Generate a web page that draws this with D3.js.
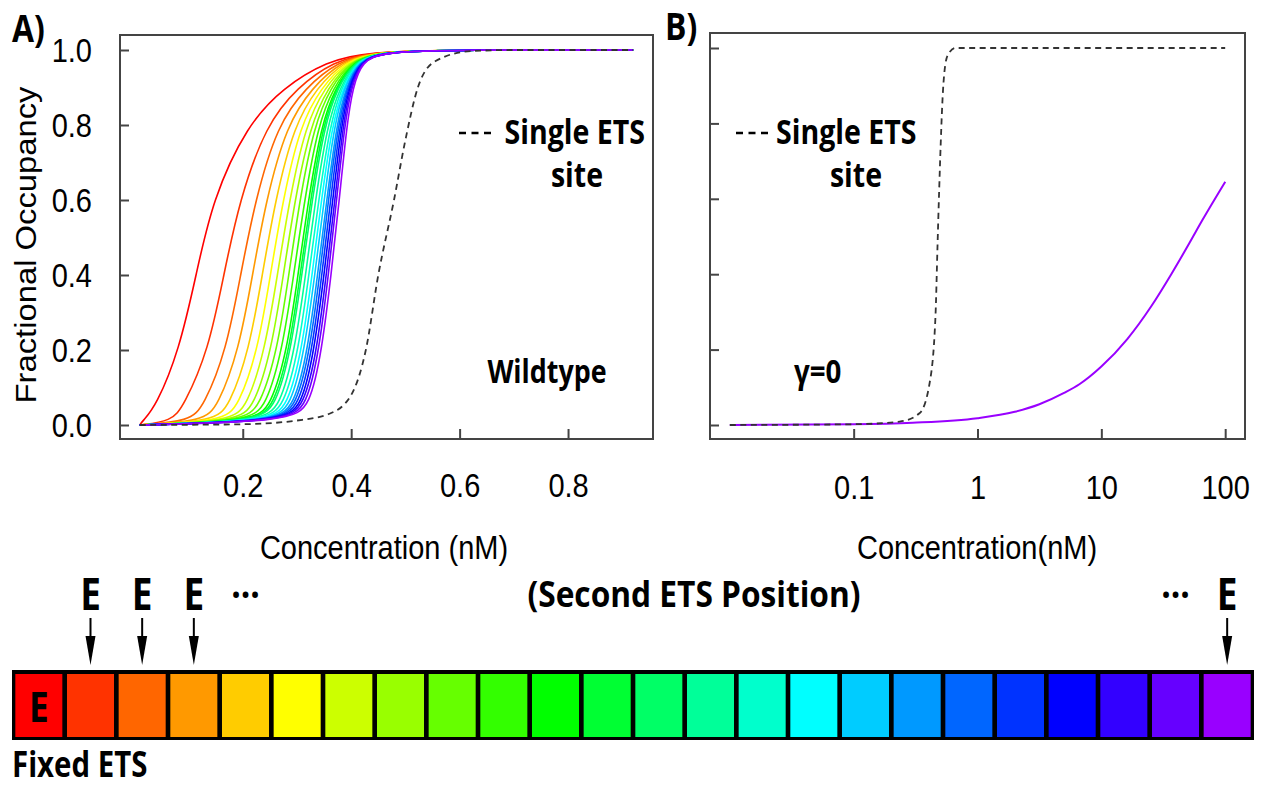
<!DOCTYPE html>
<html>
<head>
<meta charset="utf-8">
<script src="https://cdn.jsdelivr.net/npm/d3@7"></script>
<style>
  body { margin: 0; background: #fff; }
  svg { display: block; }
</style>
</head>
<body>
<svg id="fig"></svg>
<script>
// colours of the 24 positions of the strip (fixed ETS = first)
const cellColors = ["#FF0000", "#FF3300", "#FF6600", "#FF9900", "#FFCC00", "#FFFF00",
  "#CCFF00", "#99FF00", "#66FF00", "#33FF00", "#00FF00", "#00FF33", "#00FF66", "#00FF99",
  "#00FFCC", "#00FFFF", "#00CCFF", "#0099FF", "#0066FF", "#0033FF", "#0000FF", "#3300FF",
  "#6600FF", "#9900FF"]

// panel A: concentration (nM) at which each wildtype curve reaches these occupancies
const occLevels = [0.01, 0.05, 0.2, 0.4, 0.6, 0.8, 0.9, 0.97, 0.995]
const wildtypeX = [
  [0.015, 0.040, 0.083, 0.114, 0.144, 0.208, 0.275, 0.355, 0.430],
  [0.068, 0.091, 0.137, 0.165, 0.194, 0.243, 0.300, 0.368, 0.436],
  [0.102, 0.128, 0.170, 0.196, 0.223, 0.264, 0.316, 0.376, 0.440],
  [0.127, 0.154, 0.193, 0.218, 0.243, 0.281, 0.328, 0.382, 0.442],
  [0.147, 0.175, 0.212, 0.236, 0.260, 0.295, 0.337, 0.386, 0.445],
  [0.163, 0.192, 0.228, 0.251, 0.274, 0.306, 0.345, 0.390, 0.446],
  [0.178, 0.208, 0.241, 0.264, 0.286, 0.316, 0.351, 0.394, 0.448],
  [0.190, 0.221, 0.253, 0.275, 0.296, 0.325, 0.357, 0.397, 0.449],
  [0.201, 0.232, 0.264, 0.285, 0.305, 0.332, 0.362, 0.399, 0.451],
  [0.211, 0.243, 0.273, 0.294, 0.314, 0.339, 0.367, 0.402, 0.452],
  [0.220, 0.252, 0.282, 0.302, 0.321, 0.345, 0.371, 0.404, 0.453],
  [0.224, 0.257, 0.286, 0.306, 0.325, 0.348, 0.373, 0.405, 0.454],
  [0.227, 0.261, 0.289, 0.309, 0.328, 0.351, 0.375, 0.406, 0.454],
  [0.235, 0.269, 0.296, 0.316, 0.334, 0.356, 0.379, 0.408, 0.454],
  [0.242, 0.276, 0.303, 0.322, 0.340, 0.361, 0.382, 0.409, 0.455],
  [0.248, 0.283, 0.309, 0.328, 0.345, 0.365, 0.385, 0.411, 0.456],
  [0.254, 0.289, 0.314, 0.333, 0.350, 0.369, 0.387, 0.412, 0.456],
  [0.259, 0.295, 0.320, 0.338, 0.355, 0.373, 0.390, 0.414, 0.457],
  [0.264, 0.299, 0.324, 0.342, 0.358, 0.376, 0.392, 0.414, 0.457],
  [0.268, 0.304, 0.328, 0.346, 0.362, 0.379, 0.394, 0.416, 0.458],
  [0.273, 0.309, 0.332, 0.350, 0.366, 0.382, 0.396, 0.417, 0.458],
  [0.277, 0.313, 0.337, 0.354, 0.370, 0.385, 0.398, 0.418, 0.459],
  [0.282, 0.318, 0.341, 0.358, 0.373, 0.388, 0.400, 0.419, 0.459],
  [0.287, 0.324, 0.346, 0.363, 0.378, 0.392, 0.403, 0.420, 0.460],
]
const wildtypeStart = [0.01, 0]
const wildtypeEnd = [[0.6, 1], [0.92, 1]]

// single ETS site, panel A (linear) and panel B (log)
const singleA = [[0.01, 0], [0.2, 0.002], [0.3, 0.012], [0.36, 0.03], [0.40, 0.08],
  [0.427, 0.2], [0.45, 0.4], [0.479, 0.6], [0.50, 0.76], [0.523, 0.9], [0.555, 0.97],
  [0.62, 0.997], [0.7, 1], [0.92, 1]]
const singleB = [[0.01, 0], [0.1, 0.002], [0.235, 0.009], [0.34, 0.031], [0.41, 0.11],
  [0.458, 0.29], [0.475, 0.47], [0.49, 0.62], [0.532, 0.91], [0.573, 0.98],
  [0.665, 1], [1, 1], [100, 1]]
// gamma = 0, panel B
const gammaZeroB = [[0.01, 0], [0.1, 0.002], [0.3, 0.006], [1, 0.018], [2, 0.035],
  [3.16, 0.055], [5, 0.085], [6.65, 0.108], [10, 0.155], [16.2, 0.228], [25.3, 0.315],
  [36.7, 0.40], [51.3, 0.482], [65.3, 0.543], [100, 0.645]]

const ticksAx = [0.2, 0.4, 0.6, 0.8]
const ticksY = [0, 0.2, 0.4, 0.6, 0.8, 1.0]
const ticksBx = [0.1, 1, 10, 100]
const arrowCells = [1, 2, 3, 23]
const ellipsisCells = [4, 22]

const width = 1263
const height = 787

const svg = d3.select('svg#fig')
  .attr("width", width)
  .attr("height", height)
  .attr("viewBox", `0 0 ${width} ${height}`)

const REG = "'Liberation Sans', Arial, Helvetica, sans-serif"
const BOLD = "'Open Sans', 'DejaVu Sans', sans-serif"
const STRETCH = 1.13

function label(g, str, x, y, o) {
  const t = g.append("text")
    .attr("transform", `translate(${x},${y})` + (o.rotate ? ` rotate(${o.rotate})` : '')
      + ` scale(${o.sx || 1},${o.sy || 1})`)
    .attr("font-family", o.bold ? BOLD : REG)
    .attr("font-weight", o.bold ? 700 : 400)
    .attr("font-size", o.size)
    .attr("text-anchor", o.anchor || "middle")
    .attr("fill", "#000")
    .text(str)
  return t
}

const boxColor = "#444"

// ---------- panel A ----------
const xA = d3.scaleLinear().domain([-0.0264, 0.9567]).range([120, 653])
const yA = d3.scaleLinear().domain([0, 1]).range([425, 50])

const lineA = d3.line()
  .x(d => xA(d[0]))
  .y(d => yA(d[1]))
  .curve(d3.curveMonotoneX)

const smoothA = d3.line()
  .x(d => xA(d[0]))
  .y(d => yA(d[1]))
  .curve(d3.curveBasis)

const gA = svg.append("g")

gA.append("g")
  .selectAll("path")
  .data(wildtypeX)
  .join("path")
    .attr("d", xs => smoothA([wildtypeStart, ...xs.map((x, i) => [x, occLevels[i]]), ...wildtypeEnd]))
    .attr("fill", "none")
    .attr("stroke", (xs, i) => cellColors[i])
    .attr("stroke-width", 1.6)

gA.append("path")
  .attr("d", lineA(singleA))
  .attr("fill", "none")
  .attr("stroke", "#333")
  .attr("stroke-width", 1.8)
  .attr("stroke-dasharray", "6,4.5")

gA.append("g")
  .attr("transform", `translate(0,439)`)
  .call(d3.axisBottom(xA).tickValues(ticksAx).tickFormat(d3.format(".1f")).tickSizeInner(-10).tickSizeOuter(0))
  .call(g => g.select(".domain").remove())
  .call(g => g.selectAll(".tick line").attr("stroke", boxColor).attr("stroke-width", 2))
  .call(g => g.selectAll(".tick text")
    .attr("y", null).attr("dy", null)
    .attr("transform", `translate(0,58) scale(1,${STRETCH})`)
    .attr("font-family", REG).attr("font-size", 29).attr("fill", "#000"))

gA.append("g")
  .attr("transform", `translate(120,0)`)
  .call(d3.axisLeft(yA).tickValues(ticksY).tickFormat(d3.format(".1f")).tickSizeInner(-9).tickSizeOuter(0))
  .call(g => g.select(".domain").remove())
  .call(g => g.selectAll(".tick line").attr("stroke", boxColor).attr("stroke-width", 2))
  .call(g => g.selectAll(".tick text")
    .attr("x", null).attr("dy", null)
    .attr("transform", `translate(-28,11.5) scale(1,${STRETCH})`)
    .attr("font-family", REG).attr("font-size", 29).attr("fill", "#000"))

gA.append("rect")
  .attr("x", 120).attr("y", 35).attr("width", 653 - 120).attr("height", 439 - 35)
  .attr("fill", "none").attr("stroke", boxColor).attr("stroke-width", 2)

label(svg, "Fractional Occupancy", 36, 245, {size: 29, rotate: -90, sx: STRETCH})
label(svg, "Concentration (nM)", 384, 559, {size: 29, sy: STRETCH})
label(svg, "A)", 12, 42, {size: 38, bold: true, anchor: "start", sx: 0.84})
label(svg, "Single ETS", 645, 144, {size: 34, bold: true, anchor: "end", sx: 0.84})
label(svg, "site", 577, 187, {size: 34, bold: true, sx: 0.84})
label(svg, "Wildtype", 547, 383, {size: 32, bold: true, sx: 0.84})
svg.append("line")
  .attr("x1", 459).attr("x2", 494).attr("y1", 133).attr("y2", 133)
  .attr("stroke", "#000").attr("stroke-width", 2.6).attr("stroke-dasharray", "7,5.5")

// ---------- panel B ----------
const xB = d3.scaleLog().domain([0.01 / Math.pow(10, 0.16), 100 * Math.pow(10, 0.16)]).range([710, 1245])
const yB = d3.scaleLinear().domain([0, 1]).range([425, 48])

const lineB = d3.line()
  .x(d => xB(d[0]))
  .y(d => yB(d[1]))
  .curve(d3.curveMonotoneX)

const gB = svg.append("g")

gB.append("path")
  .attr("d", lineB(gammaZeroB))
  .attr("fill", "none")
  .attr("stroke", cellColors[23])
  .attr("stroke-width", 2)

gB.append("path")
  .attr("d", lineB(singleB))
  .attr("fill", "none")
  .attr("stroke", "#333")
  .attr("stroke-width", 1.8)
  .attr("stroke-dasharray", "6,4.5")

gB.append("g")
  .attr("transform", `translate(0,439)`)
  .call(d3.axisBottom(xB).tickValues(ticksBx).tickFormat(d3.format("~g")).tickSizeInner(-10).tickSizeOuter(0))
  .call(g => g.select(".domain").remove())
  .call(g => g.selectAll(".tick line").attr("stroke", boxColor).attr("stroke-width", 2))
  .call(g => g.selectAll(".tick text")
    .attr("y", null).attr("dy", null)
    .attr("transform", `translate(0,60) scale(1,${STRETCH})`)
    .attr("font-family", REG).attr("font-size", 29).attr("fill", "#000"))

gB.append("g")
  .attr("transform", `translate(710,0)`)
  .call(d3.axisLeft(yB).tickValues(ticksY).tickFormat("").tickSizeInner(-9).tickSizeOuter(0))
  .call(g => g.select(".domain").remove())
  .call(g => g.selectAll(".tick line").attr("stroke", boxColor).attr("stroke-width", 2))

gB.append("rect")
  .attr("x", 710).attr("y", 33).attr("width", 1245 - 710).attr("height", 439 - 33)
  .attr("fill", "none").attr("stroke", boxColor).attr("stroke-width", 2)

label(svg, "Concentration(nM)", 977, 559, {size: 29, sy: STRETCH})
label(svg, "B)", 665, 40, {size: 38, bold: true, anchor: "start", sx: 0.84})
label(svg, "Single ETS", 776, 144, {size: 34, bold: true, anchor: "start", sx: 0.84})
label(svg, "site", 856, 187, {size: 34, bold: true, sx: 0.84})
label(svg, "γ=0", 794, 383, {size: 33, bold: true, anchor: "start", sx: 0.84})
svg.append("line")
  .attr("x1", 736).attr("x2", 772).attr("y1", 133).attr("y2", 133)
  .attr("stroke", "#000").attr("stroke-width", 2.6).attr("stroke-dasharray", "7,5.5")

// ---------- position strip ----------
const xs = d3.scaleBand()
  .domain(d3.range(cellColors.length))
  .range([13, 1253])
  .paddingInner(0.09)
  .paddingOuter(0.045)

svg.append("rect")
  .attr("x", 12).attr("y", 670).attr("width", 1254 - 12).attr("height", 70)
  .attr("fill", "#000")

svg.append("g")
  .selectAll("rect")
  .data(cellColors)
  .join("rect")
    .attr("x", (c, i) => xs(i))
    .attr("y", 674)
    .attr("width", xs.bandwidth())
    .attr("height", 63)
    .attr("fill", c => c)

const mid = i => xs(i) + xs.bandwidth() / 2

label(svg, "E", mid(0), 722, {size: 42, bold: true, sx: 0.84})

for (const i of arrowCells) {
  label(svg, "E", mid(i), 610, {size: 44, bold: true, sx: 0.84})
  const x = mid(i)
  svg.append("line")
    .attr("x1", x).attr("x2", x).attr("y1", 618).attr("y2", 640)
    .attr("stroke", "#000").attr("stroke-width", 2)
  svg.append("path")
    .attr("d", `M${x - 5},636 L${x + 5},636 L${x},665 Z`)
    .attr("fill", "#000")
}
for (const i of ellipsisCells) {
  label(svg, "...", mid(i), 598, {size: 40, bold: true, sx: 0.84})
}

label(svg, "(Second ETS Position)", 694, 607, {size: 36, bold: true, sx: 0.88})
label(svg, "Fixed ETS", 12, 777, {size: 35, bold: true, anchor: "start", sx: 0.84})
</script>
</body>
</html>
